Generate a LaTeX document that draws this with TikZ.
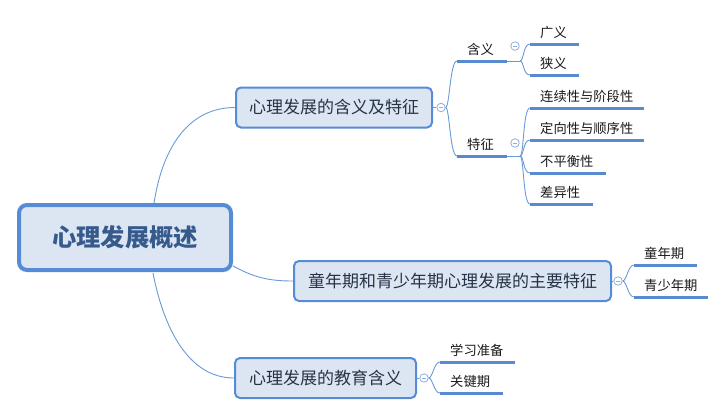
\documentclass[tikz,border=0pt]{standalone}
\usepackage{fontspec}
\setmainfont{Noto Sans CJK SC}
\definecolor{thin}{RGB}{106,154,216}
\definecolor{ul}{RGB}{88,138,208}
\definecolor{bord}{RGB}{86,140,214}
\definecolor{boxfill}{RGB}{220,230,242}
\definecolor{roottxt}{RGB}{55,90,140}
\definecolor{brtxt}{RGB}{40,50,70}
\definecolor{cbl}{RGB}{140,175,225}
\tikzset{
  rootbox/.style={draw=bord, fill=boxfill, line width=4pt, rounded corners=8pt,
    minimum width=212pt, minimum height=65pt, inner sep=0pt,
    font=\fontsize{24.3}{28}\selectfont\bfseries, text=roottxt},
  brbox/.style={draw=bord, fill=boxfill, line width=2pt, rounded corners=5pt,
    minimum height=40pt, inner sep=0pt, font=\fontsize{17}{19}\selectfont, text=brtxt},
  leaf/.style={anchor=south west, inner xsep=10pt, inner ysep=4pt, text height=11pt,
    text depth=2pt, align=left, font=\fontsize{13.3}{15}\selectfont, text=black!90},
  uline/.style={draw=ul, line width=3pt},
  conn/.style={draw=thin, line width=0.9pt},
  collapse/.style={circle, draw=cbl, fill=white, line width=0.8pt, minimum size=8.5pt,
    inner sep=0pt, path picture={\draw[cbl, line width=0.8pt]
      ([xshift=-2.3pt]path picture bounding box.center) -- ([xshift=2.3pt]path picture bounding box.center);}}
}
\begin{document}
\begin{tikzpicture}[x=1pt,y=-1pt]
\useasboundingbox (0,0) rectangle (727,415);

% root and branches
\node[rootbox] (root) at (125,237.5) {心理发展概述};
\node[brbox, minimum width=196pt] (b1) at (334,107.5) {心理发展的含义及特征};
\node[brbox, minimum width=317pt] (b2) at (452.5,281) {童年期和青少年期心理发展的主要特征};
\node[brbox, minimum width=181pt] (b3) at (325.5,378) {心理发展的教育含义};

\coordinate (r1) at (154,203);
\coordinate (r2) at (233,266);
\coordinate (r3) at (153,273);
\draw[conn] (r1) .. controls (163,145) and (190,107.5) .. (b1.west);
\draw[conn] (r2) .. controls (255,278) and (270,281) .. (b2.west);
\draw[conn] (r3) .. controls (163,325) and (187,378) .. (b3.west);

% collapse buttons of branches
\node[collapse] (c1) at (441,107.5) {};
\node[collapse] (c2) at (618,281) {};
\node[collapse] (c3) at (424,378) {};
\draw[conn] (b1.east) -- (c1.west);
\draw[conn] (b2.east) -- (c2.west);
\draw[conn] (b3.east) -- (c3.west);

% branch 1 sub-branches
\node[leaf, text width=30pt] (hy) at (457,61) {含义};
\node[leaf, text width=30pt] (tz) at (457,156) {特征};
\draw[uline] (hy.south west) -- (hy.south east);
\draw[uline] (tz.south west) -- (tz.south east);
\draw[conn] (c1.east) .. controls +(4,0) and +(-7,0) .. (hy.south west);
\draw[conn] (c1.east) .. controls +(4,0) and +(-7,0) .. (tz.south west);
\node[collapse] (chy) at (515,46) {};
\node[collapse] (ctz) at (515,143) {};

\coordinate (hyj) at (520,61);
\coordinate (tzj) at (520,156);
\draw[conn] (hy.south east) -- (hyj);
\draw[conn] (tz.south east) -- (tzj);

% leaves of 含义
\node[leaf, text width=29pt] (gy) at (530,44) {广义};
\node[leaf, text width=29pt] (xy) at (530,75) {狭义};
\foreach \n in {gy,xy} {
  \draw[uline] (\n.south west) -- (\n.south east);
  \draw[conn] (hyj) .. controls +(4,0) and +(-7,0) .. (\n.south west);
}

% leaves of 特征
\node[leaf, text width=94pt] (l1) at (530,108) {连续性与阶段性};
\node[leaf, text width=94pt] (l2) at (530,140) {定向性与顺序性};
\node[leaf, text width=56pt] (l3) at (530,173) {不平衡性};
\node[leaf, text width=43pt] (l4) at (530,204) {差异性};
\foreach \n in {l1,l2,l3,l4} {
  \draw[uline] (\n.south west) -- (\n.south east);
  \draw[conn] (tzj) .. controls +(4,0) and +(-7,0) .. (\n.south west);
}

% leaves of branch 2
\node[leaf, text width=43pt] (tn) at (634,265) {童年期};
\node[leaf, text width=54pt] (qs) at (634,297) {青少年期};
\foreach \n in {tn,qs} {
  \draw[uline] (\n.south west) -- (\n.south east);
  \draw[conn] (c2.east) .. controls +(4,0) and +(-6,0) .. (\n.south west);
}

% leaves of branch 3
\node[leaf, text width=55pt] (xx) at (440,362) {学习准备};
\node[leaf, text width=43pt] (gj) at (440,393) {关键期};
\foreach \n in {xx,gj} {
  \draw[uline] (\n.south west) -- (\n.south east);
  \draw[conn] (c3.east) .. controls +(4,0) and +(-6,0) .. (\n.south west);
}
\end{tikzpicture}
\end{document}
